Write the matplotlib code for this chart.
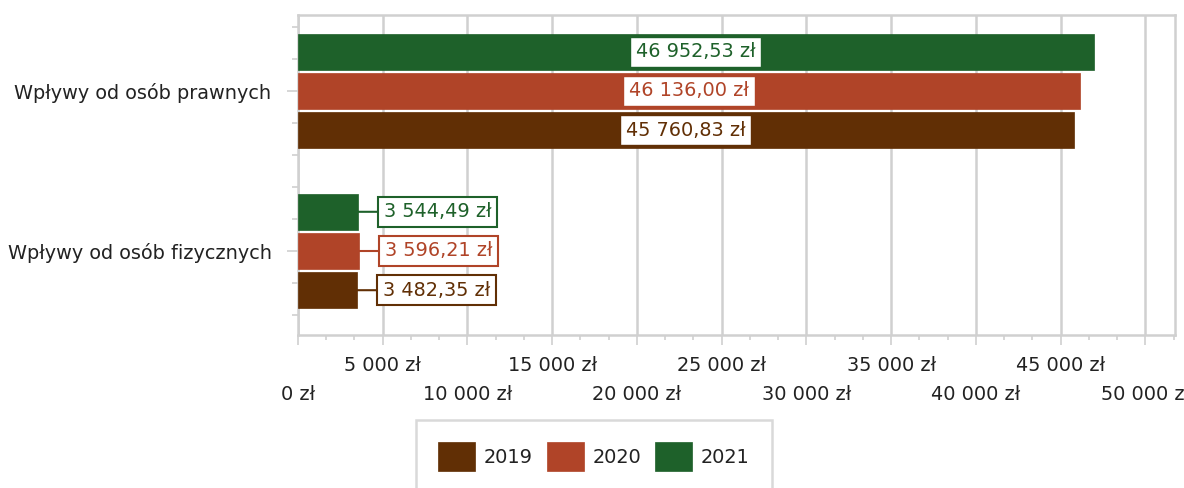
import matplotlib
matplotlib.use("Agg")
import matplotlib.pyplot as plt
import numpy as np
from matplotlib.ticker import FixedLocator, MultipleLocator

categories = ["Wpływy od osób fizycznych", "Wpływy od osób prawnych"]
years = ["2019", "2020", "2021"]
values = {
    "2019": [3482.35, 45760.83],
    "2020": [3596.21, 46136.00],
    "2021": [3544.49, 46952.53],
}
colors = {"2019": "#612f05", "2020": "#b04428", "2021": "#1e612a"}
xticks = list(range(0, 50001, 5000))


def fmt(v):
    s = f"{v:,.2f}".replace(",", " ").replace(".", ",")
    return s + " zł"


def fmt_tick(v):
    return f"{int(v):,}".replace(",", " ") + " zł"


plt.rcParams["font.family"] = ["DejaVu Sans"]
fs = 13.9

fig = plt.figure(figsize=(11.84, 4.88), dpi=100)
ax = fig.add_axes([298 / 1184, 1 - 335 / 488, (1175 - 298) / 1184, 320 / 488])

y = np.arange(len(categories))
offsets = {"2019": -0.245, "2020": 0.0, "2021": 0.245}
h = 0.228
for yr in years:
    vals = values[yr]
    ax.barh(y + offsets[yr], vals, height=h, color=colors[yr], label=yr,
            edgecolor=colors[yr], linewidth=0.5, zorder=3)
    for i, v in enumerate(vals):
        yy = y[i] + offsets[yr]
        if v > 20000:
            ax.text(v / 2, yy, fmt(v), ha="center", va="center", fontsize=fs,
                    color=colors[yr], zorder=5,
                    bbox=dict(boxstyle="square,pad=0.3", fc="white", ec=colors[yr], lw=1.0))
        else:
            ax.annotate(fmt(v), xy=(v, yy), xytext=(18.5, 0), textcoords="offset points",
                        ha="left", va="center", fontsize=fs, color=colors[yr], zorder=5,
                        bbox=dict(boxstyle="square,pad=0.3", fc="white", ec=colors[yr], lw=1.5),
                        arrowprops=dict(arrowstyle="-", color=colors[yr], lw=1.5,
                                        shrinkA=0, shrinkB=0))

ax.set_xlim(0, 51750)
ax.set_ylim(-0.525, 1.475)

ax.xaxis.set_major_locator(FixedLocator(xticks))
ax.set_xticklabels([fmt_tick(t) for t in xticks])
ax.xaxis.set_minor_locator(MultipleLocator(5000 / 3))
ax.set_yticks(y)
ax.set_yticklabels(categories)
ax.yaxis.set_minor_locator(FixedLocator([-0.4, -0.2, 0.2, 0.4, 0.6, 0.8, 1.2, 1.4]))

gc = "#d0d0d0"
ax.grid(axis="x", which="major", color=gc, lw=1.8, zorder=0)
for s in ax.spines.values():
    s.set_color(gc)
    s.set_linewidth(1.8)

ax.tick_params(axis="x", which="major", length=7.5, width=1.2, color=gc, labelsize=fs,
               labelcolor="#222222")
ax.tick_params(axis="x", which="minor", length=3.5, width=1.2, color=gc)
ax.tick_params(axis="y", which="major", length=8, width=1.2, color=gc, labelsize=fs,
               pad=11, labelcolor="#222222")
ax.tick_params(axis="y", which="minor", length=4, width=1.2, color=gc)

for i, t in enumerate(ax.xaxis.get_major_ticks()):
    t.set_pad(7.5 if i % 2 == 1 else 28.5)

leg = fig.legend(loc="upper center", bbox_to_anchor=(0.5015, 1 - 420 / 488), ncol=3,
                 fontsize=fs, frameon=True, fancybox=False, edgecolor=gc,
                 handlelength=1.9, handleheight=1.9, handletextpad=0.45,
                 columnspacing=0.75, borderpad=1.15, borderaxespad=0)
leg.get_frame().set_linewidth(1.8)
for t in leg.get_texts():
    t.set_color("#222222")

fig.savefig("out.png", dpi=100)
